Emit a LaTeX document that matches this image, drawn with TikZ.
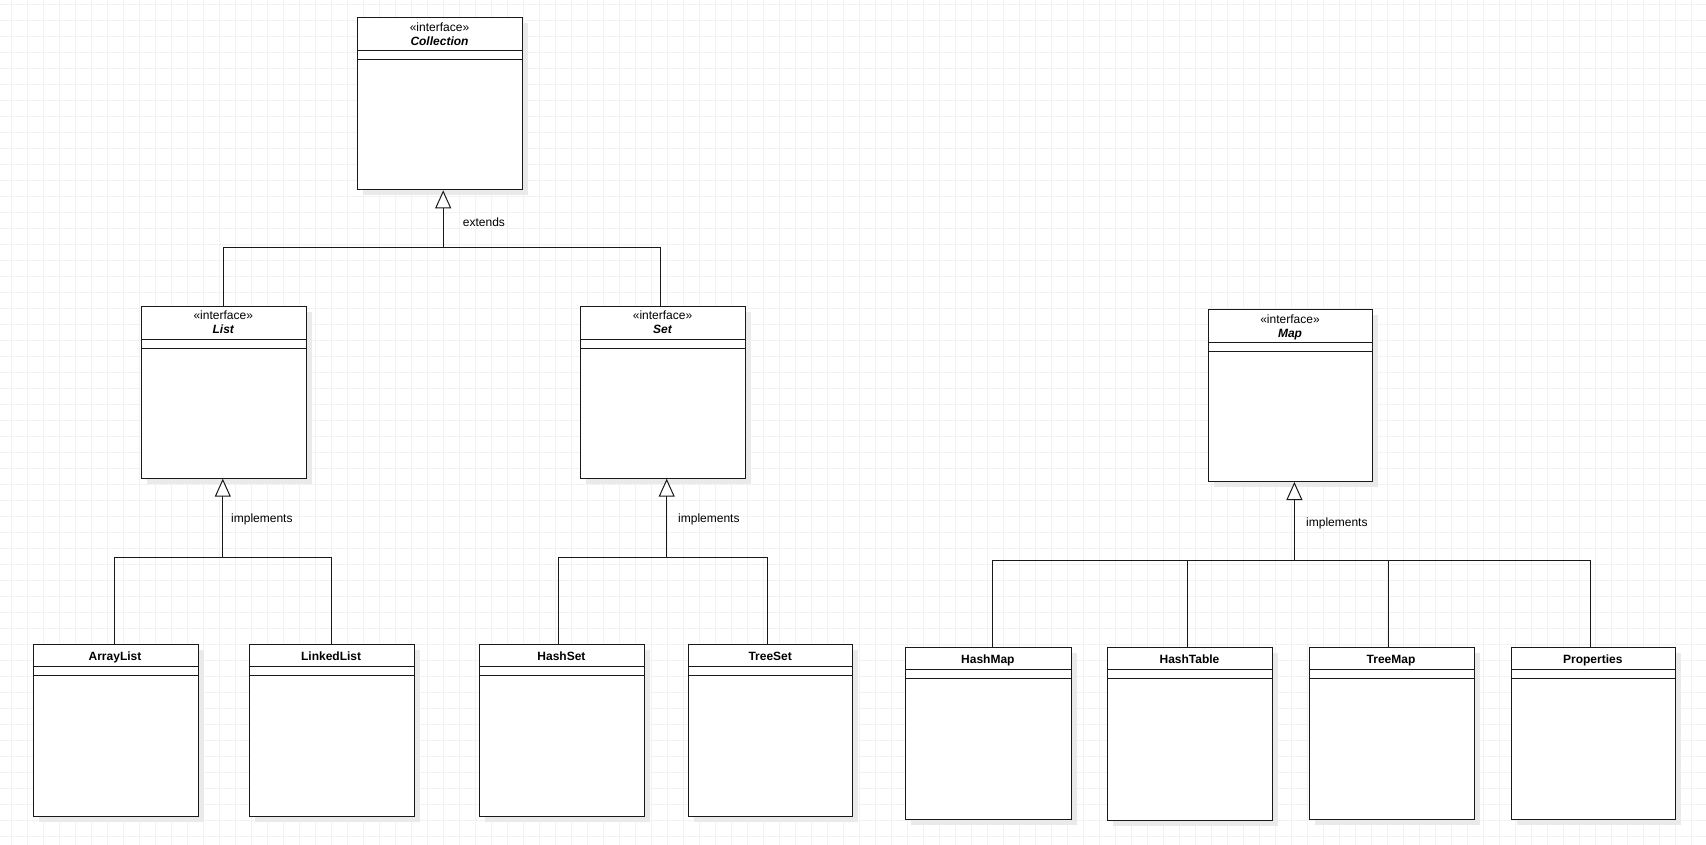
\documentclass[tikz,border=0pt]{standalone}
\usepackage{fontspec}
\setmainfont{Liberation Sans}
\usetikzlibrary{arrows.meta}
\definecolor{gridc}{RGB}{242,242,242}
\definecolor{shadowc}{RGB}{234,234,234}
\definecolor{linec}{RGB}{25,25,25}
\tikzset{
  umlbox/.style={draw=linec, line width=1pt, fill=white, inner sep=0pt, anchor=north west},
  conn/.style={draw=linec, line width=1pt},
  inh/.style={conn, -{Triangle[open, length=18pt, width=16pt, fill=white]}},
  lbl/.style={font=\fontsize{12}{14}\selectfont, inner sep=0pt},
  gridline/.style={draw=gridc, line width=0.8pt},
}
\newcommand\ifacebox[6]{%
  \fill[shadowc] (#3+6,#4+6) rectangle ++(#5,#6);
  \node[umlbox, minimum width=#5pt, minimum height=#6pt] (#1) at (#3,#4) {};
  \draw[conn] (#3,#4+33.5) -- ++(#5,0) (#3,#4+42.5) -- ++(#5,0);
  \node[lbl, anchor=base] (#1-st) at (#3+#5/2,#4+14) {«interface»};
  \node[lbl, anchor=base, font=\fontsize{12}{14}\selectfont\bfseries\itshape] (#1-nm) at (#3+#5/2,#4+28) {#2};
}
\newcommand\classbox[6]{%
  \fill[shadowc] (#3+6,#4+6) rectangle ++(#5,#6);
  \node[umlbox, minimum width=#5pt, minimum height=#6pt] (#1) at (#3,#4) {};
  \draw[conn] (#3,#4+22.6) -- ++(#5,0) (#3,#4+31.5) -- ++(#5,0);
  \node[lbl, anchor=base, font=\fontsize{12}{14}\selectfont\bfseries] (#1-nm) at (#3+#5/2,#4+16.5) {#2};
}
\begin{document}
\begin{tikzpicture}[x=1pt, y=-1pt]
\useasboundingbox (0,0) rectangle (1706,845);
\fill[white] (0,0) rectangle (1706,845);
\foreach \gx in {11.5,27.5,...,1706} \draw[gridline] (\gx,0) -- (\gx,845);
\foreach \gy in {4.3,20.3,...,845} \draw[gridline] (0,\gy) -- (1706,\gy);

% interfaces
\ifacebox{Collection}{Collection}{357}{17.3}{165}{172}
\ifacebox{List}{List}{141}{305.7}{164.5}{172}
\ifacebox{Set}{Set}{580.3}{305.7}{164.5}{172}
\ifacebox{Map}{Map}{1207.7}{309.3}{164.6}{171.7}

% classes
\classbox{ArrayList}{ArrayList}{32.5}{643.7}{165}{172}
\classbox{LinkedList}{LinkedList}{248.6}{643.7}{165}{172}
\classbox{HashSet}{HashSet}{479.2}{643.7}{164.5}{172}
\classbox{TreeSet}{TreeSet}{688}{643.7}{164.4}{172}
\classbox{HashMap}{HashMap}{905.3}{647.3}{165.2}{172}
\classbox{HashTable}{HashTable}{1107}{647.3}{165}{173}
\classbox{TreeMap}{TreeMap}{1308.5}{647.3}{165.1}{172}
\classbox{Properties}{Properties}{1510.5}{647.3}{164.5}{172}

% junctions
\coordinate (jC) at (443.2,247.7);
\coordinate (jL) at (222.8,557.3);
\coordinate (jS) at (666.7,557.3);
\coordinate (jM) at (1294.4,560.7);

% Collection hierarchy
\draw[conn] (List.north) |- (jC) -| ([xshift=-3pt]Set.north);
\draw[inh] (jC) -- (jC |- Collection.south);
\node[lbl, anchor=base west] (extends) at (462.7,227) {extends};

% List implementations
\draw[conn] ([xshift=-1pt]ArrayList.north) |- (jL) -| (LinkedList.north);
\draw[inh] (jL) -- (jL |- List.south);
\node[lbl, anchor=base west] (implL) at (231,522) {implements};

% Set implementations
\draw[conn] ([xshift=-3pt]HashSet.north) |- (jS) -| ([xshift=-3pt]TreeSet.north);
\draw[inh] (jS) -- (jS |- Set.south);
\node[lbl, anchor=base west] (implS) at (678,522) {implements};

% Map implementations
\draw[conn] ([xshift=4pt]HashMap.north) |- (jM) -| ([xshift=-3pt]Properties.north);
\draw[conn] ([xshift=-3pt]HashTable.north) |- (jM);
\draw[conn] ([xshift=-3pt]TreeMap.north) |- (jM);
\draw[inh] (jM) -- (jM |- Map.south);
\node[lbl, anchor=base west] (implM) at (1306,526) {implements};
\end{tikzpicture}
\end{document}
